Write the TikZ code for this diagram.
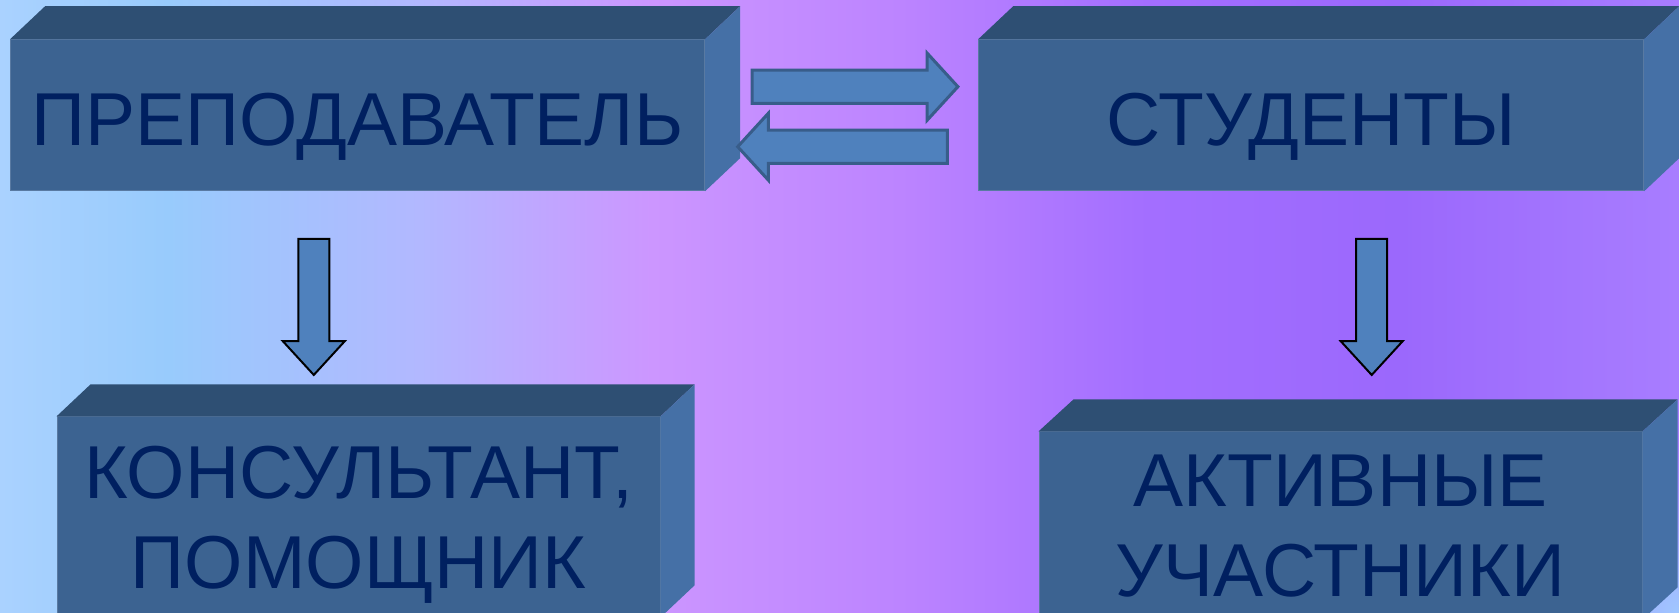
\documentclass[tikz,border=0pt]{standalone}
\usepackage{fontspec}
\setmainfont{Liberation Sans}
\usetikzlibrary{shapes.arrows,fadings}

\definecolor{frontblue}{RGB}{60,99,145}
\definecolor{topblue}{RGB}{46,79,115}
\definecolor{sideblue}{RGB}{69,112,166}
\definecolor{textnavy}{RGB}{0,32,96}
\definecolor{arrowfill}{RGB}{79,129,189}
\definecolor{arrowline}{RGB}{56,93,138}
\definecolor{bgA}{RGB}{170,210,255}
\definecolor{bgB}{RGB}{152,203,252}
\definecolor{bgC}{RGB}{178,184,255}
\definecolor{bgD}{RGB}{204,150,255}
\definecolor{bgE}{RGB}{188,132,255}
\definecolor{bgF}{RGB}{163,110,255}
\definecolor{bgG}{RGB}{155,104,252}
\definecolor{bgH}{RGB}{168,125,255}
\definecolor{bgcorner}{RGB}{160,200,255}

\pgfdeclarehorizontalshading{bgshade}{100bp}{color(0bp)=(bgA); color(25bp)=(bgA); color(30bp)=(bgB); color(37.5bp)=(bgC); color(44.4bp)=(bgD); color(51.8bp)=(bgE); color(59.2bp)=(bgF); color(66.7bp)=(bgG); color(75bp)=(bgH); color(100bp)=(bgH)}
\tikzfading[name=cornerfade, inner color=transparent!0, outer color=transparent!100]

\begin{document}
\begin{tikzpicture}[x=1pt, y=-1pt,
  slab/.style={rectangle, fill=frontblue, draw=frontblue!85!white, line width=1pt, text=textnavy, font=\fontsize{75}{90}\selectfont, align=center, inner sep=0pt, text depth=0pt},
  flatarrow/.style={single arrow, draw=arrowline, fill=arrowfill, line width=3pt, inner xsep=0pt, inner ysep=15.2pt, single arrow head extend=16.8pt, single arrow tip angle=95, minimum width=0pt},
  downarrow/.style={single arrow, draw=black, fill=arrowfill, line width=2pt, inner xsep=0pt, inner ysep=14.5pt, single arrow head extend=15.6pt, single arrow tip angle=85, minimum width=0pt, minimum height=136pt, rotate=-90}]
\useasboundingbox (0,0) rectangle (1679,613);
\clip (0,0) rectangle (1679,613);
\shade[shading=bgshade] (0,0) rectangle (1679,613);
\fill[bgcorner, path fading=cornerfade] (1679,613) circle (170);

% boxes
\node[slab, minimum width=694, minimum height=151, text height=60pt] (teacher) at (357.6,115.2) {ПРЕПОДАВАТЕЛЬ};
\node[slab, minimum width=665, minimum height=151, text height=60pt] (students) at (1311.2,115.2) {СТУДЕНТЫ};
\node[slab, minimum width=603, minimum height=200] (consultant) at (358.5,516.9) {КОНСУЛЬТАНТ,\\ПОМОЩНИК};
\node[slab, minimum width=603, minimum height=187] (active) at (1340.5,525.4) {АКТИВНЫЕ\\УЧАСТНИКИ};

\fill[topblue] (teacher.north west) -- ++(35,-33) -- ([shift={(35,-33)}]teacher.north east) -- (teacher.north east) -- cycle;
\fill[sideblue] (teacher.north east) -- ++(35,-33) -- ([shift={(35,-33)}]teacher.south east) -- (teacher.south east) -- cycle;
\fill[topblue] (students.north west) -- ++(35,-33) -- ([shift={(35,-33)}]students.north east) -- (students.north east) -- cycle;
\fill[sideblue] (students.north east) -- ++(35,-33) -- ([shift={(35,-33)}]students.south east) -- (students.south east) -- cycle;
\fill[topblue] (consultant.north west) -- ++(34,-32) -- ([shift={(34,-32)}]consultant.north east) -- (consultant.north east) -- cycle;
\fill[sideblue] (consultant.north east) -- ++(34,-32) -- ([shift={(34,-32)}]consultant.south east) -- (consultant.south east) -- cycle;
\fill[topblue] (active.north west) -- ++(35,-32) -- ([shift={(35,-32)}]active.north east) -- (active.north east) -- cycle;
\fill[sideblue] (active.north east) -- ++(35,-32) -- ([shift={(35,-32)}]active.south east) -- (active.south east) -- cycle;

% arrows
\node[flatarrow, minimum height=205.7pt] (toward) at (847.4,86.7) {};
\node[flatarrow, minimum height=209.7pt, rotate=180] (backward) at (850.2,146.7) {};
\node[downarrow] (leftdown) at (313.8,298.5) {};
\node[downarrow] (rightdown) at (1371.7,298.5) {};
\end{tikzpicture}
\end{document}
